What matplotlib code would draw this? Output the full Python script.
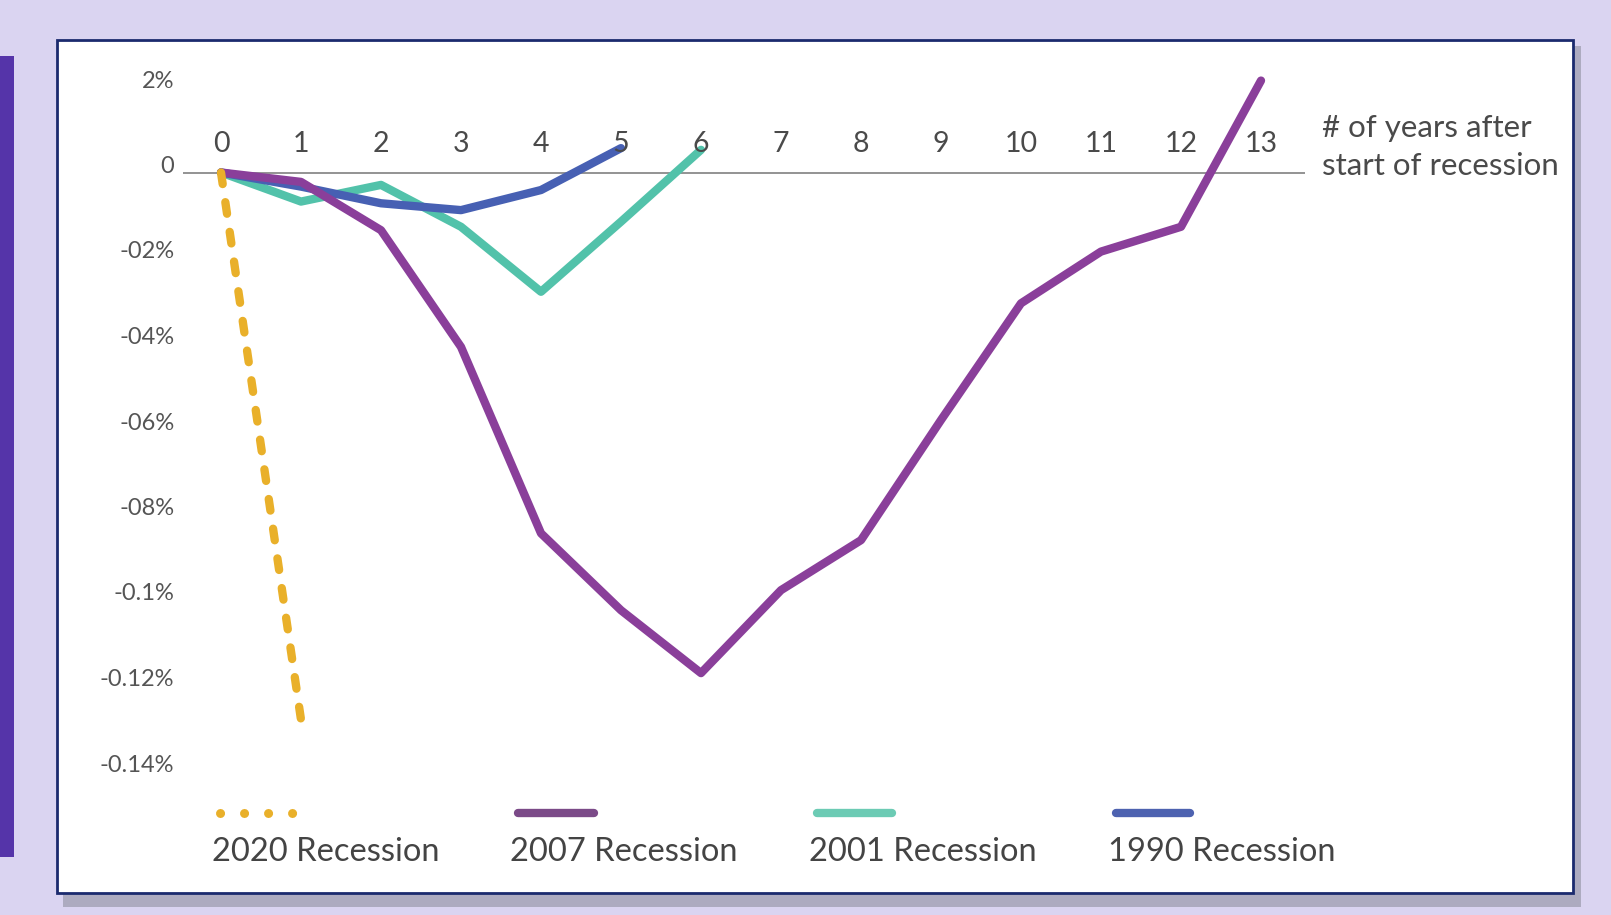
import matplotlib
matplotlib.use("Agg")
import matplotlib.pyplot as plt
import matplotlib.transforms as mtransforms
from matplotlib.patches import Rectangle
from matplotlib.lines import Line2D

plt.rcParams["font.family"] = ["Lato", "DejaVu Sans"]

# dados (anos apos o inicio da recessao, variacao)
anos_2020 = [0, 1]
val_2020 = [0, -0.128]

anos_2007 = [0, 1, 2, 3, 4, 5, 6, 7, 8, 9, 10, 11, 12, 13]
val_2007 = [0, -0.0022, -0.0135, -0.0408, -0.0844, -0.1024, -0.1171,
            -0.0977, -0.086, -0.0579, -0.0306, -0.0185, -0.0127, 0.0215]

anos_2001 = [0, 1, 2, 3, 4, 5, 6]
val_2001 = [0, -0.0068, -0.0029, -0.0127, -0.0279, -0.0115, 0.0053]

anos_1990 = [0, 1, 2, 3, 4, 5]
val_1990 = [0, -0.0033, -0.0072, -0.0088, -0.0041, 0.0057]

x_ticks = list(range(14))
x_labels = [str(i) for i in x_ticks]
y_ticks = [0.02, 0, -0.02, -0.04, -0.06, -0.08, -0.10, -0.12, -0.14]
y_labels = ["2%", "0", "-02%", "-04%", "-06%", "-08%", "-0.1%", "-0.12%", "-0.14%"]

nomes = ["2020 Recession", "2007 Recession", "2001 Recession", "1990 Recession"]
cores = ["#E9B02A", "#8A3F9A", "#52C2AA", "#4760B3"]
cores_legenda = ["#E9B02A", "#7B4A88", "#6CCBB4", "#4D62B0"]

W, H = 1611, 915


def px(x, y):
    return x / W, 1 - y / H


fig = plt.figure(figsize=(W / 100, H / 100), dpi=100, facecolor="#DAD4F1")

# fundo / moldura
fig.add_artist(Rectangle(px(0, 857), 14 / W, (857 - 56) / H, transform=fig.transFigure,
                         facecolor="#5534A9", edgecolor="none", zorder=0))
fig.add_artist(Rectangle(px(63, 907), (1581 - 63) / W, (907 - 46) / H, transform=fig.transFigure,
                         facecolor="#ADABC0", edgecolor="none", zorder=0))
fig.add_artist(Rectangle(px(57, 893), (1573 - 57) / W, (893 - 40) / H, transform=fig.transFigure,
                         facecolor="white", edgecolor="#1B2A6E", linewidth=2, zorder=0))

# eixo: x 0 -> 221px, 80px por ano ; y 0 -> 172.5px, 85.5px por 0.02
xmin, xmax = -0.48, 13.55
ymin, ymax = -0.15, 0.025
left = 221 + 80 * xmin
right = 221 + 80 * xmax
top = 172.5 - ymax / 0.02 * 85.5
bottom = 172.5 - ymin / 0.02 * 85.5
ax = fig.add_axes([left / W, 1 - bottom / H, (right - left) / W, (bottom - top) / H])
ax.set_facecolor("none")
ax.set_xlim(xmin, xmax)
ax.set_ylim(ymin, ymax)
for s in ax.spines.values():
    s.set_visible(False)

ax.axhline(0, color="#8A8A8A", linewidth=1.3, zorder=1)

ax.plot(anos_1990, val_1990, color=cores[3], linewidth=6, solid_capstyle="round",
        solid_joinstyle="round", zorder=3)
ax.plot(anos_2001, val_2001, color=cores[2], linewidth=6, solid_capstyle="round",
        solid_joinstyle="round", zorder=2)
ax.plot(anos_2007, val_2007, color=cores[1], linewidth=6, solid_capstyle="round",
        solid_joinstyle="round", zorder=4)
ax.plot(anos_2020, val_2020, color=cores[0], linewidth=6, linestyle=(0, (1.4, 2.2)),
        dash_capstyle="round", zorder=5)

ax.set_xticks([])
ax.set_yticks(y_ticks)
ax.set_yticklabels(y_labels, fontsize=17, color="#555555")
ax.tick_params(axis="y", length=0, pad=6)
sobe = mtransforms.ScaledTranslation(0, 8 / 100, fig.dpi_scale_trans)
for lab in ax.get_yticklabels():
    lab.set_transform(lab.get_transform() + sobe)

for x, lab in zip(x_ticks, x_labels):
    ax.annotate(lab, (x, 0), xytext=(0, 29), textcoords="offset pixels",
                ha="center", va="center", fontsize=20.5, color="#4A4A4A")

fig.text(*px(1322, 128), "# of years after", fontsize=22.5, color="#4A4A4A",
         ha="left", va="center")
fig.text(*px(1322, 166), "start of recession", fontsize=22.5, color="#4A4A4A",
         ha="left", va="center")

# legenda manual
leg_x = [(216, 298), (514, 598), (813, 896), (1112, 1194)]
for i, (nome, (x0, x1)) in enumerate(zip(nomes, leg_x)):
    a, b = px(x0 + 4, 813)
    c, d = px(x1 - 4, 813)
    if i == 0:
        fig.add_artist(Line2D([a, c], [b, d], transform=fig.transFigure, color=cores_legenda[i],
                              linewidth=6.5, linestyle=(0, (0.01, 2.65)), dash_capstyle="round"))
    else:
        fig.add_artist(Line2D([a, c], [b, d], transform=fig.transFigure, color=cores_legenda[i],
                              linewidth=6, solid_capstyle="round"))
    fig.text(*px(x0 - 4, 852), nome, fontsize=23.5, color="#444444", ha="left", va="center")

fig.savefig("out.png", dpi=100, facecolor=fig.get_facecolor())
